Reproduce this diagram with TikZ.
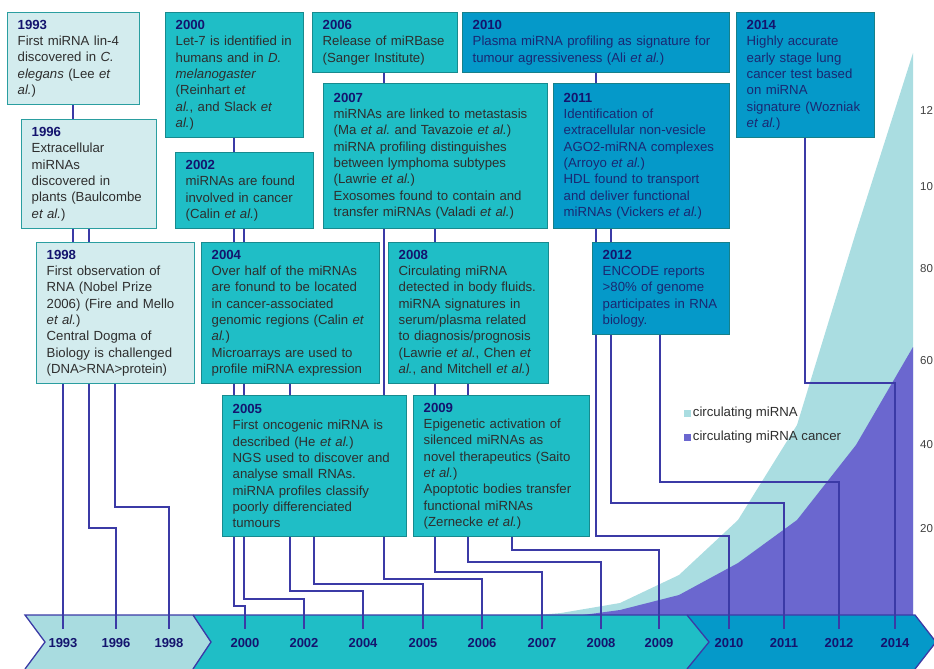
\documentclass[tikz,border=0pt]{standalone}
\usepackage{fontspec}
\setmainfont{Liberation Sans}
\usetikzlibrary{positioning,backgrounds}

\definecolor{paleteal}{HTML}{D3ECEE}
\definecolor{midteal}{HTML}{1FBEC6}
\definecolor{deepblue}{HTML}{0599C9}
\definecolor{edgepale}{HTML}{2A9EA0}
\definecolor{edgeteal}{HTML}{178A8E}
\definecolor{edgeblue}{HTML}{16808A}
\definecolor{linkblue}{HTML}{3B3AA6}
\definecolor{yearnavy}{HTML}{14146E}
\definecolor{txtgray}{HTML}{2E2E2E}
\definecolor{txtnavy}{HTML}{1A2872}
\definecolor{areacyan}{HTML}{AADDE1}
\definecolor{areapurple}{HTML}{6B67CF}
\definecolor{barpale}{HTML}{A9DCE0}

\newcommand{\yr}[1]{{\bfseries\color{yearnavy}#1}}
\newcommand{\ea}{\textit{et al.}}

\tikzset{
  evbox/.style={draw=#1, line width=1.4pt, anchor=north west, inner xsep=10pt,
    inner ysep=5pt, align=left, font=\fontsize{13.2}{16.3}\selectfont},
  palebox/.style={evbox=edgepale, fill=paleteal, text=txtgray},
  tealbox/.style={evbox=edgeteal, fill=midteal, text=txtgray},
  bluebox/.style={evbox=edgeblue, fill=deepblue, text=txtnavy},
  link/.style={draw=linkblue, line width=1.3pt},
  yearlab/.style={font=\fontsize{13}{13}\selectfont\bfseries, text=yearnavy, inner sep=0pt},
  axlab/.style={font=\fontsize{11.5}{12}\selectfont, text=black!75, anchor=west, inner sep=0pt},
  legsq/.style={minimum size=7pt, inner sep=0pt},
  legtxt/.style={font=\fontsize{13.2}{14}\selectfont, text=txtgray, inner sep=0pt, anchor=west},
}

\begin{document}
\begin{tikzpicture}[x=1pt, y=-1pt]
\useasboundingbox (0,0) rectangle (934,669);

% events
\node[palebox, text width=112pt, minimum height=92pt] (b1993) at (7,12)
  {\yr{1993}\\ First miRNA lin-4\\ discovered in \textit{C.}\\ \textit{elegans} (Lee \textit{et}\\ \textit{al.})};
\node[palebox, text width=115pt, minimum height=109pt] (b1996) at (21,119)
  {\yr{1996}\\ Extracellular\\ miRNAs\\ discovered in\\ plants (Baulcombe\\ \ea)};
\node[palebox, text width=138pt, minimum height=141pt] (b1998) at (36,242)
  {\yr{1998}\\ First observation of\\ RNA (Nobel Prize\\ 2006) (Fire and Mello\\ \ea)\\ Central Dogma of\\ Biology is challenged\\ (DNA>RNA>protein)};
\node[tealbox, text width=118pt, minimum height=125pt] (b2000) at (165,12)
  {\yr{2000}\\ Let-7 is identified in\\ humans and in \textit{D.}\\ \textit{melanogaster}\\ (Reinhart \textit{et}\\ \textit{al.}, and Slack \textit{et}\\ \textit{al.})};
\node[tealbox, text width=118pt, minimum height=76pt] (b2002) at (175,152)
  {\yr{2002}\\ miRNAs are found\\ involved in cancer\\ (Calin \ea)};
\node[tealbox, text width=158pt, minimum height=141pt] (b2004) at (201,242)
  {\yr{2004}\\ Over half of the miRNAs\\ are fonund to be located\\ in cancer-associated\\ genomic regions (Calin \textit{et}\\ \textit{al.})\\ Microarrays are used to\\ profile miRNA expression};
\node[tealbox, text width=164pt, minimum height=141pt] (b2005) at (222,395)
  {\yr{2005}\\ First oncogenic miRNA is\\ described (He \ea)\\ NGS used to discover and\\ analyse small RNAs.\\ miRNA profiles classify\\ poorly differenciated\\ tumours};
\node[tealbox, text width=125pt, minimum height=60pt] (b2006) at (312,12)
  {\yr{2006}\\ Release of miRBase\\ (Sanger Institute)};
\node[tealbox, text width=204pt, minimum height=145pt] (b2007) at (323,83)
  {\yr{2007}\\ miRNAs are linked to metastasis\\ (Ma \ea\ and Tavazoie \ea)\\ miRNA profiling distinguishes\\ between lymphoma subtypes\\ (Lawrie \ea)\\ Exosomes found to contain and\\ transfer miRNAs (Valadi \ea)};
\node[tealbox, text width=140pt, minimum height=141pt] (b2008) at (388,242)
  {\yr{2008}\\ Circulating miRNA\\ detected in body fluids.\\ miRNA signatures in\\ serum/plasma related\\ to diagnosis/prognosis\\ (Lawrie \textit{et al.}, Chen \textit{et}\\ \textit{al.}, and Mitchell \ea)};
\node[tealbox, text width=156pt, minimum height=141pt] (b2009) at (413,395)
  {\yr{2009}\\ Epigenetic activation of\\ silenced miRNAs as\\ novel therapeutics (Saito\\ \ea)\\ Apoptotic bodies transfer\\ functional miRNAs\\ (Zernecke \ea)};
\node[bluebox, text width=247pt, minimum height=60pt] (b2010) at (462,12)
  {\yr{2010}\\ Plasma miRNA profiling as signature for\\ tumour agressiveness (Ali \ea)};
\node[bluebox, text width=156pt, minimum height=145pt] (b2011) at (553,83)
  {\yr{2011}\\ Identification of\\ extracellular non-vesicle\\ AGO2-miRNA complexes\\ (Arroyo \ea)\\ HDL found to transport\\ and deliver functional\\ miRNAs (Vickers \ea)};
\node[bluebox, text width=117pt, minimum height=92pt] (b2012) at (592,242)
  {\yr{2012}\\ ENCODE reports\\ >80\% of genome\\ participates in RNA\\ biology.};
\node[bluebox, text width=118pt, minimum height=125pt] (b2014) at (736,12)
  {\yr{2014}\\ Highly accurate\\ early stage lung\\ cancer test based\\ on miRNA\\ signature (Wozniak\\ \ea)};

% years on the arrow
\foreach \y/\x in {1993/63,1996/116,1998/169,2000/245,2002/304,2004/363,2005/423,
    2006/482,2007/542,2008/601,2009/659,2010/729,2011/784,2012/839,2014/895} {
  \node[yearlab] (l\y) at (\x,643) {\y};
  \coordinate (t\y) at (\x,629);
}

% legend and axis
\node[legsq, fill=areacyan] (sqA) at (687,413) {};
\node[legtxt, right=2pt of sqA] (legA) {circulating miRNA};
\node[legsq, fill=areapurple] (sqB) at (687,437) {};
\node[legtxt, right=2pt of sqB] (legB) {circulating miRNA cancer};
\foreach \v/\h in {12/110,10/187,80/269,60/361,40/445,20/529}
  \node[axlab] (ax\v) at (920,\h) {\v};

\begin{scope}[on background layer]
% areas
\fill[areacyan] (537,615) -- (561,613) -- (620,603) -- (679,575) -- (738,520)
  -- (797,425) -- (856,232) -- (913,53) -- (913,615) -- cycle;
\fill[areapurple] (583,615) -- (620,610) -- (679,595) -- (738,563) -- (797,520)
  -- (856,445) -- (913,347) -- (913,615) -- cycle;

% arrow bar
\fill[barpale] (25,615) -- (193,615) -- (211,642) -- (193,669) -- (25,669) -- (45,642) -- cycle;
\fill[midteal] (193,615) -- (687,615) -- (709,642) -- (687,669) -- (193,669) -- (211,642) -- cycle;
\fill[deepblue] (687,615) -- (915,615) -- (936,642) -- (915,669) -- (687,669) -- (709,642) -- cycle;
\draw[link] (25,669) -- (45,642) -- (25,615) -- (915,615) -- (936,642) -- (915,669);
\draw[link] (193,615) -- (211,642) -- (193,669);
\draw[link] (687,615) -- (709,642) -- (687,669);

% connectors
\draw[link] (b1993.south -| 73,0) -- (73,300) -- (63,300) -- (t1993);
\draw[link] (b1996.south -| 89,0) |- (116,528) -- (t1996);
\draw[link] (b1998.south -| 115,0) |- (169,507) -- (t1998);
\draw[link] (b2000.south -| 234,0) |- (245,606) -- (t2000);
\draw[link] (b2002.south -| 244,0) |- (304,599) -- (t2002);
\draw[link] (b2004.south -| 290,0) |- (363,591) -- (t2004);
\draw[link] (b2005.south -| 314,0) |- (423,584) -- (t2005);
\draw[link] (b2006.south -| 384,0) |- (482,579) -- (t2006);
\draw[link] (b2007.south -| 435,0) |- (542,572) -- (t2007);
\draw[link] (b2008.south -| 468,0) |- (601,562) -- (t2008);
\draw[link] (b2009.south -| 512,0) |- (659,550) -- (t2009);
\draw[link] (b2010.south -| 596,0) |- (729,536) -- (t2010);
\draw[link] (b2011.south -| 611,0) |- (784,503) -- (t2011);
\draw[link] (b2012.south -| 660,0) |- (839,482) -- (t2012);
\draw[link] (b2014.south -| 805,0) |- (895,383) -- (t2014);
\end{scope}

\end{tikzpicture}
\end{document}
